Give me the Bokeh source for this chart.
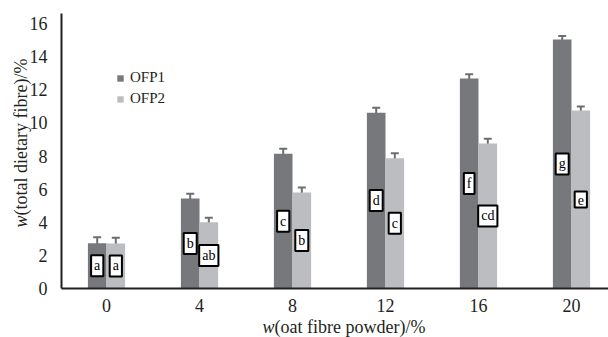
import math
from bokeh.plotting import figure
from bokeh.models import (ColumnDataSource, Whisker, TeeHead, Label, Legend,
                          LegendItem, FixedTicker, Range1d)
from bokeh.core.properties import value
from bokeh.embed import file_html
from bokeh.resources import INLINE

# ---- data ----
doses = ["0", "4", "8", "12", "16", "20"]
ofp1 = [2.74, 5.44, 8.14, 10.62, 12.69, 15.05]
ofp1_err = [0.35, 0.28, 0.30, 0.30, 0.25, 0.20]
ofp2 = [2.72, 4.00, 5.80, 7.87, 8.76, 10.75]
ofp2_err = [0.35, 0.27, 0.30, 0.30, 0.28, 0.25]
ofp1_letters = ["a", "b", "c", "d", "f", "g"]
ofp2_letters = ["a", "ab", "b", "c", "cd", "e"]
y_ticks = [0, 2, 4, 6, 8, 10, 12, 14, 16]

FONT = "Liberation Serif"
C1 = "#77787b"
C2 = "#bcbdc0"
ERR = "#6d6e71"
AX = "#231f20"
BW = 0.2

idx = list(range(len(doses)))
src1 = ColumnDataSource(dict(
    x=[i - BW / 2 for i in idx], top=ofp1,
    upper=[v + e for v, e in zip(ofp1, ofp1_err)],
    lower=[v - e for v, e in zip(ofp1, ofp1_err)],
    mid=[v / 2 for v in ofp1], lab=ofp1_letters))
src2 = ColumnDataSource(dict(
    x=[i + BW / 2 for i in idx], top=ofp2,
    upper=[v + e for v, e in zip(ofp2, ofp2_err)],
    lower=[v - e for v, e in zip(ofp2, ofp2_err)],
    mid=[v / 2 for v in ofp2], lab=ofp2_letters))

X0, X1 = -1.140, 5.398      # frame spans whole canvas
Y0, Y1 = -2.961, 17.40
XAX, YTOP = -0.484, 16.62   # where the y axis sits / top of y axis line

p = figure(width=608, height=337, output_backend="svg", toolbar_location=None,
           x_range=Range1d(X0, X1), y_range=Range1d(Y0, Y1),
           min_border_left=0, min_border_right=0, min_border_top=0,
           min_border_bottom=0)
p.outline_line_color = None
p.grid.visible = False
p.background_fill_color = "white"
p.border_fill_color = "white"

r1 = p.vbar(x="x", top="top", width=BW, source=src1, fill_color=C1, line_color=None)
r2 = p.vbar(x="x", top="top", width=BW, source=src2, fill_color=C2, line_color=None)

for src in (src1, src2):
    w = Whisker(base="x", upper="upper", lower="lower", source=src,
                dimension="height", line_color=ERR, line_width=2,
                upper_head=TeeHead(size=8, line_color=ERR, line_width=2),
                lower_head=TeeHead(size=8, line_color=ERR, line_width=2))
    p.add_layout(w)

for src in (src1, src2):
    p.text(x="x", y="mid", text="lab", source=src,
           text_font=value(FONT), text_font_size="14px", text_color="black",
           text_align="center", text_baseline="middle",
           background_fill_color="white", border_line_color="black",
           border_line_width=2, padding=3)

# axes, pinned inside the frame
xa, ya = p.xaxis[0], p.yaxis[0]
xa.fixed_location = 0
xa.bounds = (XAX, X1)
ya.fixed_location = XAX
ya.bounds = (0, YTOP)
xa.ticker = FixedTicker(ticks=idx)
xa.major_label_overrides = {i: d for i, d in zip(idx, doses)}
ya.ticker = FixedTicker(ticks=y_ticks)
for ax in (xa, ya):
    ax.axis_line_color = AX
    ax.axis_line_width = 2
    ax.major_tick_line_color = None
    ax.minor_tick_line_color = None
    ax.major_label_text_font = FONT
    ax.major_label_text_font_size = "18px"
    ax.major_label_text_color = AX
ya.major_label_standoff = 8
xa.major_label_standoff = 5

# axis titles (italic w + upright rest), screen units from frame bottom-left
common = dict(text_font=FONT, text_font_size="18px", text_color=AX,
              x_units="screen", y_units="screen")
p.add_layout(Label(x=262, y=11, text="w", text_font_style="italic",
                   text_align="left", text_baseline="middle", **common))
p.add_layout(Label(x=274, y=11, text="(oat fibre powder)/%",
                   text_align="left", text_baseline="middle", **common))
p.add_layout(Label(x=20, y=110, angle=math.pi / 2, text="w",
                   text_font_style="italic", text_align="left",
                   text_baseline="middle", **common))
p.add_layout(Label(x=20, y=122, angle=math.pi / 2,
                   text="(total dietary fibre)/%", text_align="left",
                   text_baseline="middle", **common))

legend = Legend(items=[LegendItem(label="OFP1", renderers=[r1]),
                       LegendItem(label="OFP2", renderers=[r2])],
                location=(116, 230), padding=0, margin=0, spacing=4,
                glyph_width=8, glyph_height=8, label_standoff=6,
                label_text_font=FONT, label_text_font_size="15px",
                label_text_color=AX, border_line_color=None,
                background_fill_alpha=0)
p.add_layout(legend)

open("out.html", "w").write(file_html(p, INLINE))
